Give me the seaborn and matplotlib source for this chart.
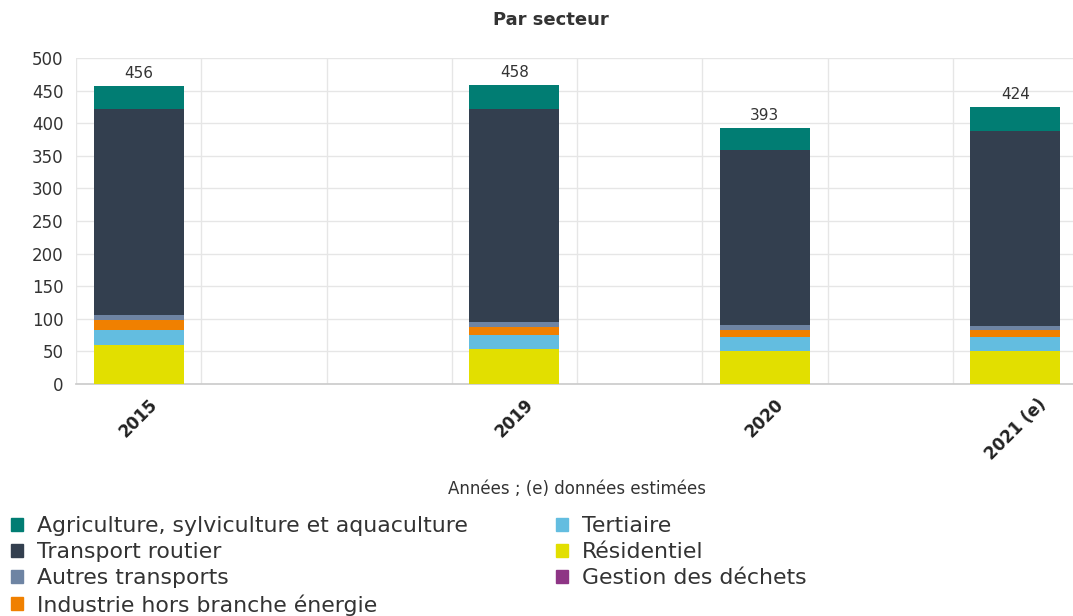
import numpy as np
import pandas as pd
import seaborn as sns
import matplotlib.pyplot as plt

# Emissions per sector
years = ["2015", "2019", "2020", "2021 (e)"]
sectors = ["Agriculture, sylviculture et aquaculture", "Transport routier", "Autres transports",
           "Industrie hors branche énergie", "Tertiaire", "Résidentiel", "Gestion des déchets"]
agriculture = [34, 36, 35, 37]
transport_routier = [316, 328, 268, 298]
autres_transports = [8, 7, 7, 6]
industrie = [15, 13, 12, 11]
tertiaire = [23, 20, 21, 22]
residentiel = [60, 54, 50, 50]
gestion_dechets = [0.4, 0.4, 0.4, 0.4]
totals = [456, 458, 393, 424]
y_ticks = list(range(0, 501, 50))

colors = {
    "Agriculture, sylviculture et aquaculture": "#017d73",
    "Transport routier": "#333f4f",
    "Autres transports": "#6e84a3",
    "Industrie hors branche énergie": "#f08000",
    "Tertiaire": "#63bde0",
    "Résidentiel": "#e2df00",
    "Gestion des déchets": "#8e3585",
}

# layout: the years sit in slots 0, 3, 5, 7 of an 8-slot category axis
slot_index = [0, 3, 5, 7]
n_slots = 8

sns.set_theme(style="white")
plt.rcParams['font.family'] = ['DejaVu Sans']

values = {
    "Agriculture, sylviculture et aquaculture": agriculture,
    "Transport routier": transport_routier,
    "Autres transports": autres_transports,
    "Industrie hors branche énergie": industrie,
    "Tertiaire": tertiaire,
    "Résidentiel": residentiel,
    "Gestion des déchets": gestion_dechets,
}

# stack bottom -> top is the reverse of the legend order
stack_order = sectors[::-1]
df = pd.DataFrame({"pos": [i + 0.5 for i in slot_index]})
cum = np.zeros(len(years))
for s in stack_order:
    cum = cum + np.array(values[s])
    df[s] = cum

fig = plt.figure(figsize=(10.73, 6.16), dpi=100)
ax = fig.add_axes([76 / 1073, 1 - 384 / 616, (1078 - 76) / 1073, (384 - 58) / 616])

min_gap = np.min(np.diff(df["pos"]))
handles = {}
# draw tallest cumulative first so lower layers overlay it
for s in stack_order[::-1]:
    sns.barplot(data=df, x="pos", y=s, native_scale=True, width=0.72 / min_gap,
                color=colors[s], saturation=1, linewidth=0, ax=ax, zorder=3)
    handles[s] = plt.Rectangle((0, 0), 1, 1, color=colors[s])

for p, t in zip(df["pos"], totals):
    ax.text(p, t + 8, str(t), ha="center", va="bottom", fontsize=11, color="#333333")

ax.set_xlim(0, n_slots)
ax.set_ylim(0, 500)
ax.set_yticks(y_ticks)
ax.set_xticks(df["pos"])
ax.set_xticklabels(years, rotation=45, fontweight="bold", fontsize=12, color="#222222")
ax.set_xticks(np.arange(0, n_slots + 1), minor=True)
ax.tick_params(axis="x", which="major", length=0, pad=8)
ax.tick_params(axis="x", which="minor", length=10, color="#e6e6e6", width=1)
ax.tick_params(axis="y", length=0, labelsize=12, labelcolor="#333333", pad=9)
ax.grid(axis="y", color="#e6e6e6", linewidth=1)
ax.grid(axis="x", which="minor", color="#e6e6e6", linewidth=1)
ax.set_axisbelow(True)
for sp in ["top", "right", "left"]:
    ax.spines[sp].set_visible(False)
ax.spines["bottom"].set_color("#cccccc")
ax.set_ylabel("")
ax.set_xlabel("Années ; (e) données estimées", fontsize=12, color="#333333")
ax.xaxis.set_label_coords(0.5, -(489 - 384) / 326, transform=ax.transAxes)
ax.xaxis.label.set_va("center")

fig.text(551 / 1073, 1 - 20 / 616, "Par secteur", ha="center", va="center",
         fontweight="bold", fontsize=13, color="#333333")

fig.legend([handles[s] for s in sectors], sectors, ncol=2, loc="upper left",
           bbox_to_anchor=(-4 / 1073, 1 - 501 / 616), frameon=False, fontsize=15.8,
           handlelength=0.55, handleheight=0.55, handletextpad=0.64, labelspacing=0.27,
           columnspacing=4.0, borderpad=0.2, labelcolor="#333333")

fig.savefig("out.png", dpi=100)
